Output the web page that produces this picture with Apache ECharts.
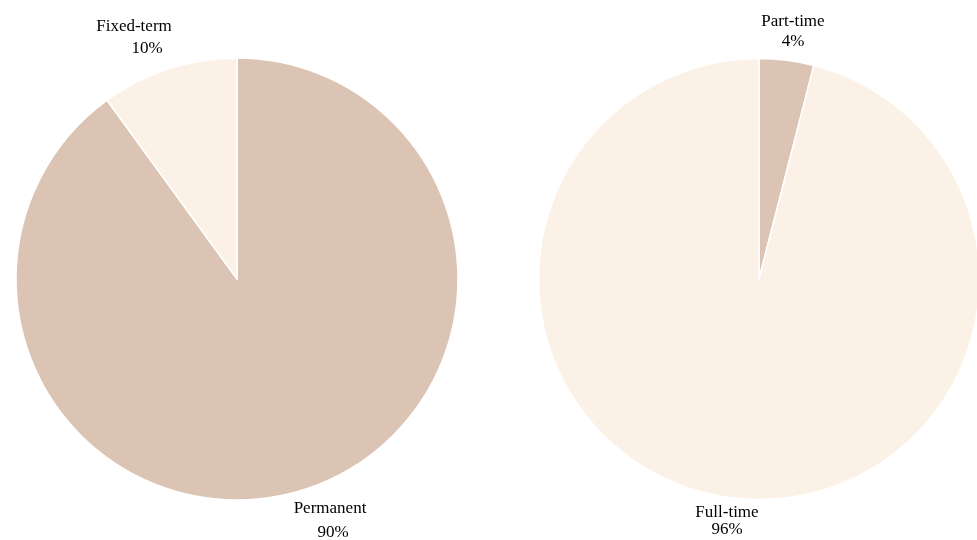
<!DOCTYPE html>
<html><head><meta charset="utf-8">
<script src="https://cdn.jsdelivr.net/npm/echarts@6/dist/echarts.min.js"></script>
<style>html,body{margin:0;padding:0;background:#fff}#c{width:977px;height:540px}</style>
</head><body><div id="c"></div>
<script>
const contractCategories = ['Permanent', 'Fixed-term'];
const contractValues = [90, 10];
const hoursCategories = ['Part-time', 'Full-time'];
const hoursValues = [4, 96];

const TAN = '#dcc4b5', CREAM = '#fcf1e7';
// [x, y, lineHeight, second-line left padding]
const labelPos = {
  'Permanent': [330, 521, 24, 6],
  'Fixed-term': [134, 38, 22, 26],
  'Part-time': [793, 32, 20, 0],
  'Full-time': [727, 521, 17, 0]
};
const FONT = '"Liberation Serif", "Times New Roman", serif';
function mk(cats, vals, colors) {
  return cats.map((c, i) => ({name: c, value: vals[i], itemStyle: {color: colors[i]},
    label: {rich: {
      a: {fontFamily: FONT, fontSize: 17, color: '#000', lineHeight: labelPos[c][2]},
      b: {fontFamily: FONT, fontSize: 17, color: '#000', lineHeight: labelPos[c][2], padding: [0, 0, 0, labelPos[c][3]]}
    }}}));
}
const labelCommon = {
  show: true, position: 'outside', color: '#000',
  fontFamily: FONT, fontSize: 17,
  formatter: p => '{a|' + p.name + '}\n{b|' + p.value + '%}'
};
const layoutFn = p => {
  const key = Object.keys(labelPos).find(k => p.text && p.text.indexOf(k) >= 0);
  if (!key) return {};
  const lp = labelPos[key];
  return {x: lp[0], y: lp[1], align: 'center', verticalAlign: 'middle'};
};
const chart = echarts.init(document.getElementById('c'), null, {renderer: 'canvas'});
chart.setOption({
  animation: false,
  series: [
    {type: 'pie', center: [237, 279], radius: 221, startAngle: 90, clockwise: true,
     itemStyle: {borderColor: '#fff', borderWidth: 1.5},
     label: labelCommon, labelLine: {show: false}, labelLayout: layoutFn,
     emphasis: {disabled: true},
     data: mk(contractCategories, contractValues, [TAN, CREAM])},
    {type: 'pie', center: [759, 279], radius: 220.5, startAngle: 90, clockwise: true,
     itemStyle: {borderColor: '#fff', borderWidth: 1.5},
     label: labelCommon, labelLine: {show: false}, labelLayout: layoutFn,
     emphasis: {disabled: true},
     data: mk(hoursCategories, hoursValues, [TAN, CREAM])}
  ]
});
</script></body></html>
